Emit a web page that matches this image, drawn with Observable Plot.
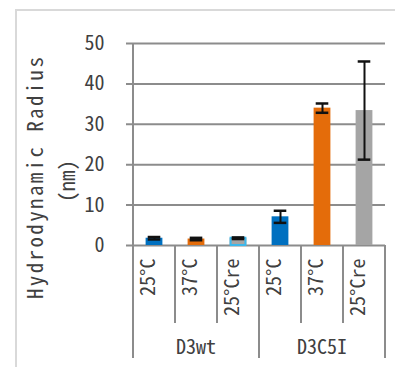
<!DOCTYPE html>
<html><head><meta charset="utf-8">
<script src="https://cdn.jsdelivr.net/npm/d3@7"></script>
<script src="https://cdn.jsdelivr.net/npm/@observablehq/plot@0.6"></script>
<style>
body{margin:0;background:#fff;}
#wrap{position:relative;width:395px;height:367px;overflow:hidden;background:#fff;}
#frame{position:absolute;left:15px;top:9px;width:420px;height:420px;border-left:2px solid #d9d9d9;border-top:2px solid #d9d9d9;}
#wrap svg{position:absolute;left:0;top:0;}
#wrap svg text{font-weight:300;}
</style>
</head><body>
<div id="wrap"><div id="frame"></div></div>
<script>
const groups = ["D3wt", "D3C5I"];
const temps = ["25°C", "37°C", "25°Cre"];
const means = [1.8, 1.6, 1.8, 7.1, 34.0, 33.4];
const errs = [0.3, 0.3, 0.2, 1.5, 1.15, 12.15];
const yTicks = [0, 10, 20, 30, 40, 50];
const yTitle = ["Hydrodynamic Radius", "(nm)"];

const rows = [];
groups.forEach((g, gi) => temps.forEach((t, ti) => {
  const i = gi * temps.length + ti;
  rows.push({group: g, temp: t, key: g + "|" + t, mean: means[i], err: errs[i]});
}));

const FONT = "'Noto Sans Mono CJK JP','Noto Sans CJK JP',monospace";
const GRID = "#8c8c8c";
const INK = "#404040";

function decorations(index, scales, values, dims) {
  const x = scales.x, y = scales.y;
  const bw = x.bandwidth();
  const keys = rows.map(d => d.key);
  const y0 = y(0), yTop = y(d3.max(yTicks));
  const g = d3.create("svg:g").attr("font-family", FONT);
  const edges = keys.map(k => x(k)).concat([x(keys[keys.length - 1]) + bw]);
  edges.forEach((xe, i) => {
    const groupEdge = i % temps.length === 0;
    g.append("line")
      .attr("x1", xe).attr("x2", xe)
      .attr("y1", i === 0 ? yTop : y0)
      .attr("y2", groupEdge ? y0 + 113 : y0 + 78)
      .attr("stroke", GRID).attr("stroke-width", 2);
  });
  groups.forEach(gr => {
    const ks = rows.filter(d => d.group === gr).map(d => x(d.key) + bw / 2);
    g.append("text")
      .attr("x", d3.mean(ks)).attr("y", y0 + 102)
      .attr("dy", "0.35em")
      .attr("text-anchor", "middle")
      .attr("font-size", 20).attr("fill", INK)
      .text(gr);
  });
  const cy = 178;
  g.append("text")
    .attr("transform", `translate(${36},${cy}) rotate(-90)`)
    .attr("text-anchor", "middle").attr("dy", "0.35em")
    .attr("font-size", 21).attr("fill", INK)
    .attr("textLength", 242).attr("lengthAdjust", "spacing")
    .text(yTitle[0]);
  g.append("text")
    .attr("transform", `translate(${68},${cy + 3}) rotate(-90)`)
    .attr("text-anchor", "middle").attr("dy", "0.35em")
    .attr("font-size", 21).attr("fill", INK)
    .text(yTitle[1]);
  return g.node();
}

const chart = Plot.plot({
  width: 395, height: 367,
  marginLeft: 132, marginRight: 10, marginTop: 43, marginBottom: 122,
  style: {fontFamily: FONT, fontSize: "20px", color: INK, background: "transparent"},
  x: {domain: rows.map(d => d.key), padding: 0, axis: null},
  y: {domain: [0, 50], axis: null},
  color: {domain: temps, range: ["#0070C0", "#E46C0A", "#A5A5A5"]},
  marks: [
    Plot.ruleY(yTicks, {y: d => d, stroke: GRID, strokeWidth: 2, insetLeft: -6}),
    Plot.barY(rows, {x: "key", y: "mean", fill: "temp", insetLeft: 12.6, insetRight: 12.6}),
    Plot.barY(rows.filter(d => d.group === "D3wt" && d.temp === "25°Cre"),
      {x: "key", y: "mean", fill: "none", stroke: "#3cb8ec", strokeWidth: 2, insetLeft: 13.6, insetRight: 13.6}),
    Plot.ruleX(rows, {x: "key", y1: d => d.mean - d.err, y2: d => d.mean + d.err, stroke: "#111", strokeWidth: 2}),
    Plot.tickY(rows, {x: "key", y: d => d.mean + d.err, stroke: "#111", strokeWidth: 2.5, insetLeft: 14.7, insetRight: 14.7}),
    Plot.tickY(rows, {x: "key", y: d => d.mean - d.err, stroke: "#111", strokeWidth: 2.5, insetLeft: 14.7, insetRight: 14.7}),
    Plot.text(yTicks, {y: d => d, text: d => String(d), frameAnchor: "left", textAnchor: "end", dx: -28, fill: INK}),
    Plot.text(rows, {x: "key", text: "temp", frameAnchor: "bottom", rotate: -90, textAnchor: "end", dy: 13, fill: INK}),
    decorations
  ]
});
document.getElementById("wrap").appendChild(chart);
</script>
</body></html>
